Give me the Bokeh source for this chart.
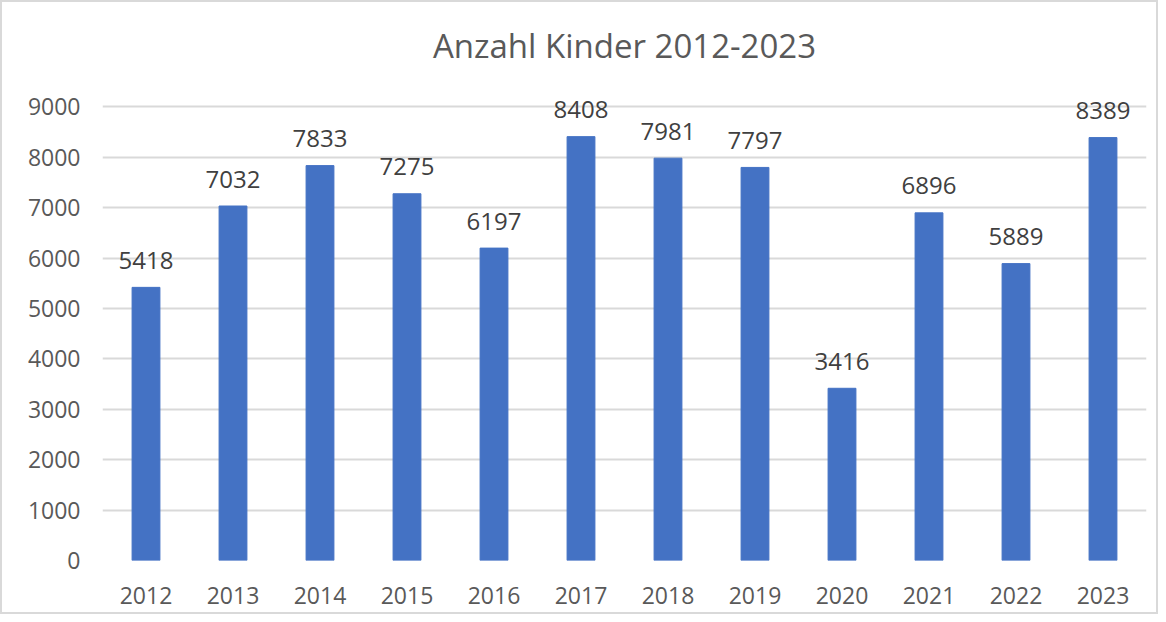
from bokeh.plotting import figure
from bokeh.models import ColumnDataSource, Range1d, FixedTicker, Title
from bokeh.core.properties import value
from bokeh.embed import file_html
from bokeh.resources import INLINE

years = ["2012", "2013", "2014", "2015", "2016", "2017", "2018", "2019", "2020", "2021", "2022", "2023"]
counts = [5418, 7032, 7833, 7275, 6197, 8408, 7981, 7797, 3416, 6896, 5889, 8389]
y_ticks = [0, 1000, 2000, 3000, 4000, 5000, 6000, 7000, 8000, 9000]
title_text = "Anzahl Kinder 2012-2023"

FONT = "Open Sans"
GREY = "#595959"

src = ColumnDataSource(dict(year=years, count=counts, label=[str(c) for c in counts]))

# y range extends a bit above 9000 so the top data labels are not clipped
p = figure(x_range=years, y_range=Range1d(0, 9700), width=1158, height=614,
           output_backend="svg", toolbar_location=None,
           min_border_left=100, min_border_right=14, min_border_top=69, min_border_bottom=56)

p.title = None
p.add_layout(Title(text=title_text, align="center", text_font=FONT, text_font_size="33px",
                   text_font_style="normal", text_color=GREY, offset=0, standoff=7), "above")

p.vbar(x="year", top="count", width=0.32, source=src, color="#4472C4", line_color="#4472C4")
p.text(x="year", y="count", text="label", source=src, text_align="center",
       text_baseline="alphabetic", y_offset=-27, text_font=value(FONT),
       text_font_size="24px", text_color="#404040")

p.outline_line_color = None
p.background_fill_color = "white"
p.border_fill_color = "white"
p.styles = {"border": "2px solid #d9d9d9", "box-sizing": "border-box"}

p.yaxis.ticker = FixedTicker(ticks=y_ticks)
p.xgrid.grid_line_color = None
p.ygrid.grid_line_color = "#d9d9d9"
p.ygrid.grid_line_width = 2

for ax in (p.xaxis, p.yaxis):
    ax.axis_line_color = None
    ax.major_tick_line_color = None
    ax.minor_tick_line_color = None
    ax.major_label_text_font = FONT
    ax.major_label_text_font_size = "23px"
    ax.major_label_text_color = GREY
p.yaxis.major_label_standoff = 16
p.xaxis.major_label_standoff = 20
p.x_range.range_padding = 0

open("out.html", "w").write(file_html(p, INLINE))
